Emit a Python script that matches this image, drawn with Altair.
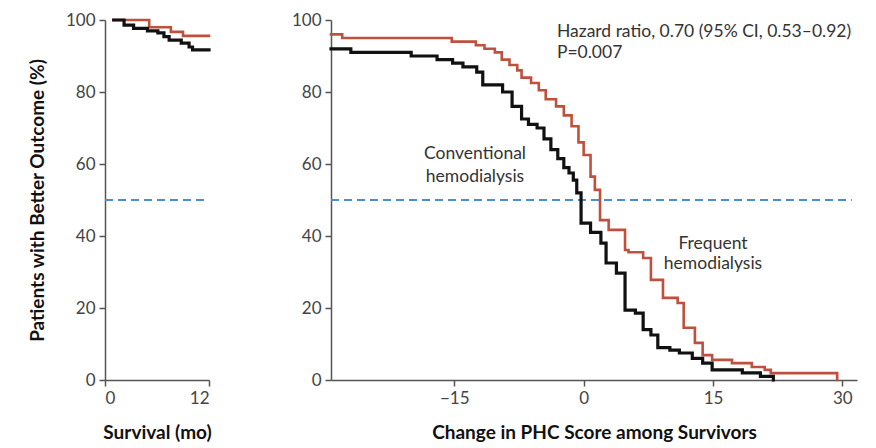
import altair as alt
import pandas as pd

# Left panel: survival (Kaplan-Meier style steps), months vs. percent
surv_months_freq = [1.0, 5.1, 7.6, 9.0, 12.0]
surv_pct_freq = [100, 98.0, 96.7, 95.6, 95.6]
surv_months_conv = [1.0, 2.2, 3.3, 4.9, 6.1, 6.8, 7.4, 8.8, 9.7, 10.1, 12.0]
surv_pct_conv = [100, 98.6, 97.7, 97.0, 96.4, 95.4, 94.4, 93.6, 92.5, 91.7, 91.7]

# Right panel: change in PHC score among survivors
phc_freq_x = [-29.3, -28.0, -15.3, -12.5, -11.5, -10.3, -9.5, -8.6, -7.7, -7.2, -6.1,
              -5.2, -4.4, -3.2, -2.3, -1.4, -0.6, 0.0, 0.8, 1.3, 1.9, 2.9, 4.8, 5.2,
              6.9, 7.8, 9.2, 10.9, 11.6, 12.9, 13.8, 14.9, 17.2, 19.5, 21.0, 21.7, 29.4]
phc_freq_y = [96, 95, 94, 93, 92, 91, 89, 87.5, 86, 84, 82.5,
              80.5, 78, 76, 73.5, 70.5, 66, 62.5, 56.5, 52.8, 44.4, 41.7, 36.1, 35.5,
              33.9, 27.8, 22.8, 21.4, 14.5, 10.3, 6.9, 5.6, 4.7, 3.6, 2.8, 1.9, 0]

phc_conv_x = [-29.3, -27.0, -20.0, -17.0, -15.2, -14.0, -12.4, -11.7, -9.4, -8.3, -7.2,
              -6.4, -5.4, -4.6, -3.8, -3.0, -2.3, -1.7, -1.2, -0.8, -0.3, 0.8, 2.0, 2.6,
              3.8, 4.8, 6.0, 6.9, 7.8, 8.6, 10.0, 11.1, 12.6, 13.8, 14.9, 18.4, 20.5, 22.0]
phc_conv_y = [92, 91, 90, 89, 88, 87, 85.5, 82, 80, 76, 72.5,
              71, 70, 67, 64, 61.5, 59, 57.5, 55.5, 52, 43.6, 41, 38, 32.5,
              29.7, 19.4, 18.6, 14, 12.5, 9, 8.3, 7.5, 6, 4.7, 2.8, 2.0, 1.0, 0]

groups = ["Frequent hemodialysis", "Conventional hemodialysis"]
group_colors = ["#c0503e", "#111111"]

y_ticks = [0, 20, 40, 60, 80, 100]
surv_ticks = [0, 12]
phc_ticks = [-15, 0, 15, 30]
threshold = 50

FONT = "Lato"

surv_df = pd.concat([
    pd.DataFrame({"x": surv_months_freq, "y": surv_pct_freq, "group": groups[0], "order": range(len(surv_months_freq))}),
    pd.DataFrame({"x": surv_months_conv, "y": surv_pct_conv, "group": groups[1], "order": range(len(surv_months_conv))}),
])
phc_df = pd.concat([
    pd.DataFrame({"x": phc_freq_x, "y": phc_freq_y, "group": groups[0], "order": range(len(phc_freq_x))}),
    pd.DataFrame({"x": phc_conv_x, "y": phc_conv_y, "group": groups[1], "order": range(len(phc_conv_x))}),
])

color_scale = alt.Scale(domain=groups, range=group_colors)
stroke_scale = alt.Scale(domain=groups, range=[2.6, 3.2])
pct_scale = alt.Scale(domain=[0, 100], nice=False)


def step_lines(df, x_scale, x_axis, y_axis):
    return alt.Chart(df).mark_line(interpolate="step-after", strokeCap="square").encode(
        x=alt.X("x:Q", scale=x_scale, axis=x_axis),
        y=alt.Y("y:Q", scale=pct_scale, axis=y_axis),
        color=alt.Color("group:N", scale=color_scale, legend=None),
        strokeWidth=alt.StrokeWidth("group:N", scale=stroke_scale, legend=None),
        order="order:Q",
    )


def dashed_50(xmin, xmax):
    return alt.Chart(pd.DataFrame({"x": [xmin], "x2": [xmax], "y": [threshold]})).mark_rule(
        color="#4a8fcb", strokeDash=[8, 5], strokeWidth=2
    ).encode(x="x:Q", x2="x2:Q", y="y:Q")


surv_scale = alt.Scale(domain=[0, 12], nice=False)
left = alt.layer(
    dashed_50(0, 12),
    step_lines(
        surv_df, surv_scale,
        alt.Axis(values=surv_ticks, title="Survival (mo)", titlePadding=17),
        alt.Axis(values=y_ticks, title="Patients with Better Outcome (%)", titlePadding=18),
    ),
).properties(width=104, height=360)

phc_scale = alt.Scale(domain=[-29.3, 31.7], nice=False)
notes_left = pd.DataFrame({
    "x": [-3.1, -3.1],
    "y": [96.7, 90.8],
    "label": ["Hazard ratio, 0.70 (95% CI, 0.53\u20130.92)", "P=0.007"],
})
notes_center = pd.DataFrame({
    "x": [-12.6, -12.6, 15.0, 15.0],
    "y": [62.7, 56.5, 37.8, 32.3],
    "label": ["Conventional", "hemodialysis", "Frequent", "hemodialysis"],
})

text_left = alt.Chart(notes_left).mark_text(
    align="left", baseline="middle", font=FONT, fontSize=17.5, color="#333333"
).encode(x=alt.X("x:Q", scale=phc_scale), y=alt.Y("y:Q", scale=pct_scale), text="label:N")
text_center = alt.Chart(notes_center).mark_text(
    align="center", baseline="middle", font=FONT, fontSize=17.5, color="#333333"
).encode(x=alt.X("x:Q", scale=phc_scale), y=alt.Y("y:Q", scale=pct_scale), text="label:N")

right = alt.layer(
    dashed_50(-29.3, 31.1),
    step_lines(
        phc_df, phc_scale,
        alt.Axis(values=phc_ticks, title="Change in PHC Score among Survivors", titlePadding=17),
        alt.Axis(values=y_ticks, title=None),
    ),
    text_left,
    text_center,
).properties(width=526, height=360)

chart = alt.hconcat(left, right, spacing=75).properties(
    padding={"left": 28, "top": 11, "right": 5, "bottom": 0}
).configure_view(stroke=None).configure_axis(
    grid=False,
    domainColor="#555555",
    domainWidth=1.5,
    tickColor="#555555",
    tickWidth=1.5,
    tickSize=6,
    labelColor="#444444",
    labelFont=FONT,
    labelFontSize=17,
    labelPadding=4,
    titleFont=FONT,
    titleFontSize=19,
    titleFontWeight="bold",
    titleColor="#111111",
)

chart.save("out.html", embed_options={"renderer": "svg", "actions": False})
